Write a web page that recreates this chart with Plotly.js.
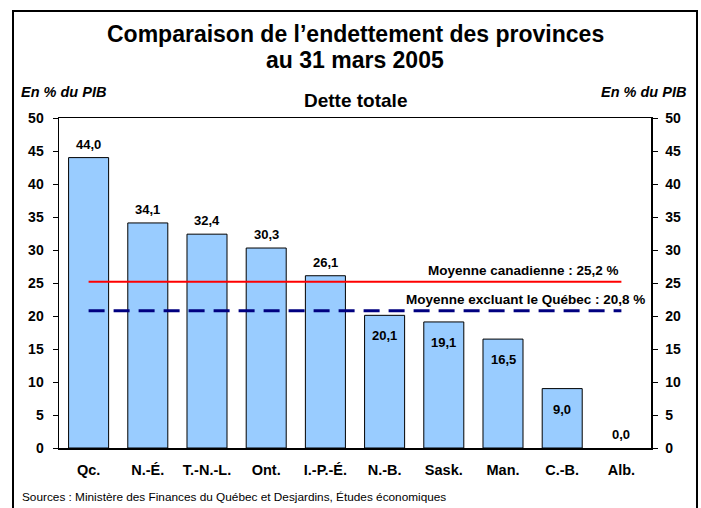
<!DOCTYPE html>
<html>
<head>
<meta charset="utf-8">
<script src="https://cdn.plot.ly/plotly-3.0.1.min.js"></script>
<style>
  html, body { margin: 0; padding: 0; background: #fff; }
  #chart { width: 701px; height: 508px; }
</style>
</head>
<body>
<div id="chart"></div>
<script>
// ---- Data ----
const provinces = ['Qc.', 'N.-É.', 'T.-N.-L.', 'Ont.', 'I.-P.-É.', 'N.-B.', 'Sask.', 'Man.', 'C.-B.', 'Alb.'];
const detteTotale = [44.0, 34.1, 32.4, 30.3, 26.1, 20.1, 19.1, 16.5, 9.0, 0.0];
const labelInside = [false, false, false, false, false, true, true, true, true, false];
const moyenneCanadienne = 25.2;
const moyenneHorsQuebec = 20.8;
const titleLine1 = 'Comparaison de l\u2019endettement des provinces';
const titleLine2 = 'au 31 mars 2005';
const subtitleText = 'Dette totale';
const unitText = 'En % du PIB';
const sourceText = 'Sources : Ministère des Finances du Québec et Desjardins, Études économiques';
const yTicks = [0, 5, 10, 15, 20, 25, 30, 35, 40, 45, 50];

const fr = v => v.toFixed(1).replace('.', ',');
const FONT = 'Liberation Sans, Arial, sans-serif';

const traces = [
  {
    type: 'bar', x: provinces, y: detteTotale,
    marker: { color: '#99CCFF', line: { color: '#000000', width: detteTotale.map(v => v > 0 ? 1 : 0) } },
    hoverinfo: 'skip', showlegend: false
  },
  {
    type: 'scatter', mode: 'lines',
    x: [provinces[0], provinces[provinces.length - 1]],
    y: [moyenneCanadienne, moyenneCanadienne],
    line: { color: '#FF0000', width: 2 }, showlegend: false, hoverinfo: 'skip'
  },
  {
    type: 'scatter', mode: 'lines',
    x: [provinces[0], provinces[provinces.length - 1]],
    y: [moyenneHorsQuebec, moyenneHorsQuebec],
    line: { color: '#000080', width: 3, dash: '16px,9px' }, showlegend: false, hoverinfo: 'skip'
  },
  {
    type: 'scatter', mode: 'markers', x: [provinces[0]], y: [0], yaxis: 'y2',
    marker: { opacity: 0 }, showlegend: false, hoverinfo: 'skip'
  }
];

const annotations = [];
provinces.forEach((p, i) => {
  const inside = labelInside[i];
  annotations.push({
    x: p, y: detteTotale[i], xref: 'x', yref: 'y',
    text: '<b>' + fr(detteTotale[i]) + '</b>', showarrow: false,
    yanchor: inside ? 'top' : 'bottom', yshift: inside ? -11 : 4,
    font: { family: FONT, size: 13, color: '#000' }
  });
});
annotations.push({
  x: provinces[provinces.length - 1], y: moyenneCanadienne, xref: 'x', yref: 'y',
  text: '<b>Moyenne canadienne : ' + fr(moyenneCanadienne) + ' %</b>', showarrow: false,
  xanchor: 'right', yanchor: 'bottom', xshift: 0, yshift: 2,
  font: { family: FONT, size: 13.5, color: '#000' }
});
annotations.push({
  x: provinces[provinces.length - 1], y: moyenneHorsQuebec, xref: 'x', yref: 'y',
  text: '<b>Moyenne excluant le Québec : ' + fr(moyenneHorsQuebec) + ' %</b>', showarrow: false,
  xanchor: 'right', yanchor: 'bottom', xshift: 26, yshift: 2,
  font: { family: FONT, size: 13.5, color: '#000' }
});
// Titles and texts
annotations.push({
  x: 0.5, y: 1.2545, xref: 'paper', yref: 'paper', showarrow: false,
  text: '<b>' + titleLine1 + '</b>', yanchor: 'middle',
  font: { family: FONT, size: 23, color: '#000' }
});
annotations.push({
  x: 0.5, y: 1.1758, xref: 'paper', yref: 'paper', showarrow: false,
  text: '<b>' + titleLine2 + '</b>', yanchor: 'middle',
  font: { family: FONT, size: 23, color: '#000' }
});
annotations.push({
  x: 0.5, y: 1.0545, xref: 'paper', yref: 'paper', showarrow: false,
  text: '<b>' + subtitleText + '</b>', yanchor: 'middle',
  font: { family: FONT, size: 19, color: '#000' }
});
annotations.push({
  x: -0.0676, y: 1.0773, xref: 'paper', yref: 'paper', showarrow: false,
  text: '<b><i>' + unitText + '</i></b>', xanchor: 'left', yanchor: 'middle',
  font: { family: FONT, size: 14.5, color: '#000' }
});
annotations.push({
  x: 1.0625, y: 1.0773, xref: 'paper', yref: 'paper', showarrow: false,
  text: '<b><i>' + unitText + '</i></b>', xanchor: 'right', yanchor: 'middle',
  font: { family: FONT, size: 14.5, color: '#000' }
});
annotations.push({
  x: -0.0659, y: -0.148, xref: 'paper', yref: 'paper', showarrow: false,
  text: sourceText, xanchor: 'left', yanchor: 'middle',
  font: { family: FONT, size: 11.8, color: '#000' }
});

const yAxisCommon = {
  range: [0, 50], tickmode: 'array', tickvals: yTicks, ticktext: yTicks.map(v => '<b>' + v + '</b>'),
  ticks: 'outside', ticklen: 5, tickwidth: 1, tickcolor: '#000',
  showgrid: false, zeroline: false,
  showline: true, linecolor: '#000', linewidth: 1.5,
  tickfont: { family: FONT, size: 14, color: '#000' },
  fixedrange: true
};

const layout = {
  width: 701, height: 508,
  margin: { l: 59, r: 50, t: 118, b: 60 },
  paper_bgcolor: '#ffffff', plot_bgcolor: '#ffffff',
  separators: ', ',
  bargap: 0.324,
  showlegend: false,
  xaxis: {
    type: 'category', range: [-0.5, 9.5],
    tickmode: 'array', tickvals: provinces, ticktext: provinces.map(p => '<b>' + p + '</b>'),
    showline: true, mirror: true, linecolor: '#000', linewidth: 1.5,
    ticks: '', showgrid: false, zeroline: false,
    tickfont: { family: FONT, size: 14.5, color: '#000' },
    ticklabelstandoff: 8,
    fixedrange: true
  },
  yaxis: Object.assign({}, yAxisCommon, { side: 'left', mirror: false, ticklabelstandoff: 6 }),
  yaxis2: Object.assign({}, yAxisCommon, { side: 'right', overlaying: 'y', ticklabelstandoff: 5 }),
  annotations: annotations,
  shapes: [{
    type: 'rect', xref: 'paper', yref: 'paper',
    x0: -0.0777, x1: 1.0777, y0: -0.25, y1: 1.324,
    line: { color: '#000', width: 2 }, fillcolor: 'rgba(0,0,0,0)'
  }]
};

Plotly.newPlot('chart', traces, layout, { displayModeBar: false, staticPlot: true });
</script>
</body>
</html>
